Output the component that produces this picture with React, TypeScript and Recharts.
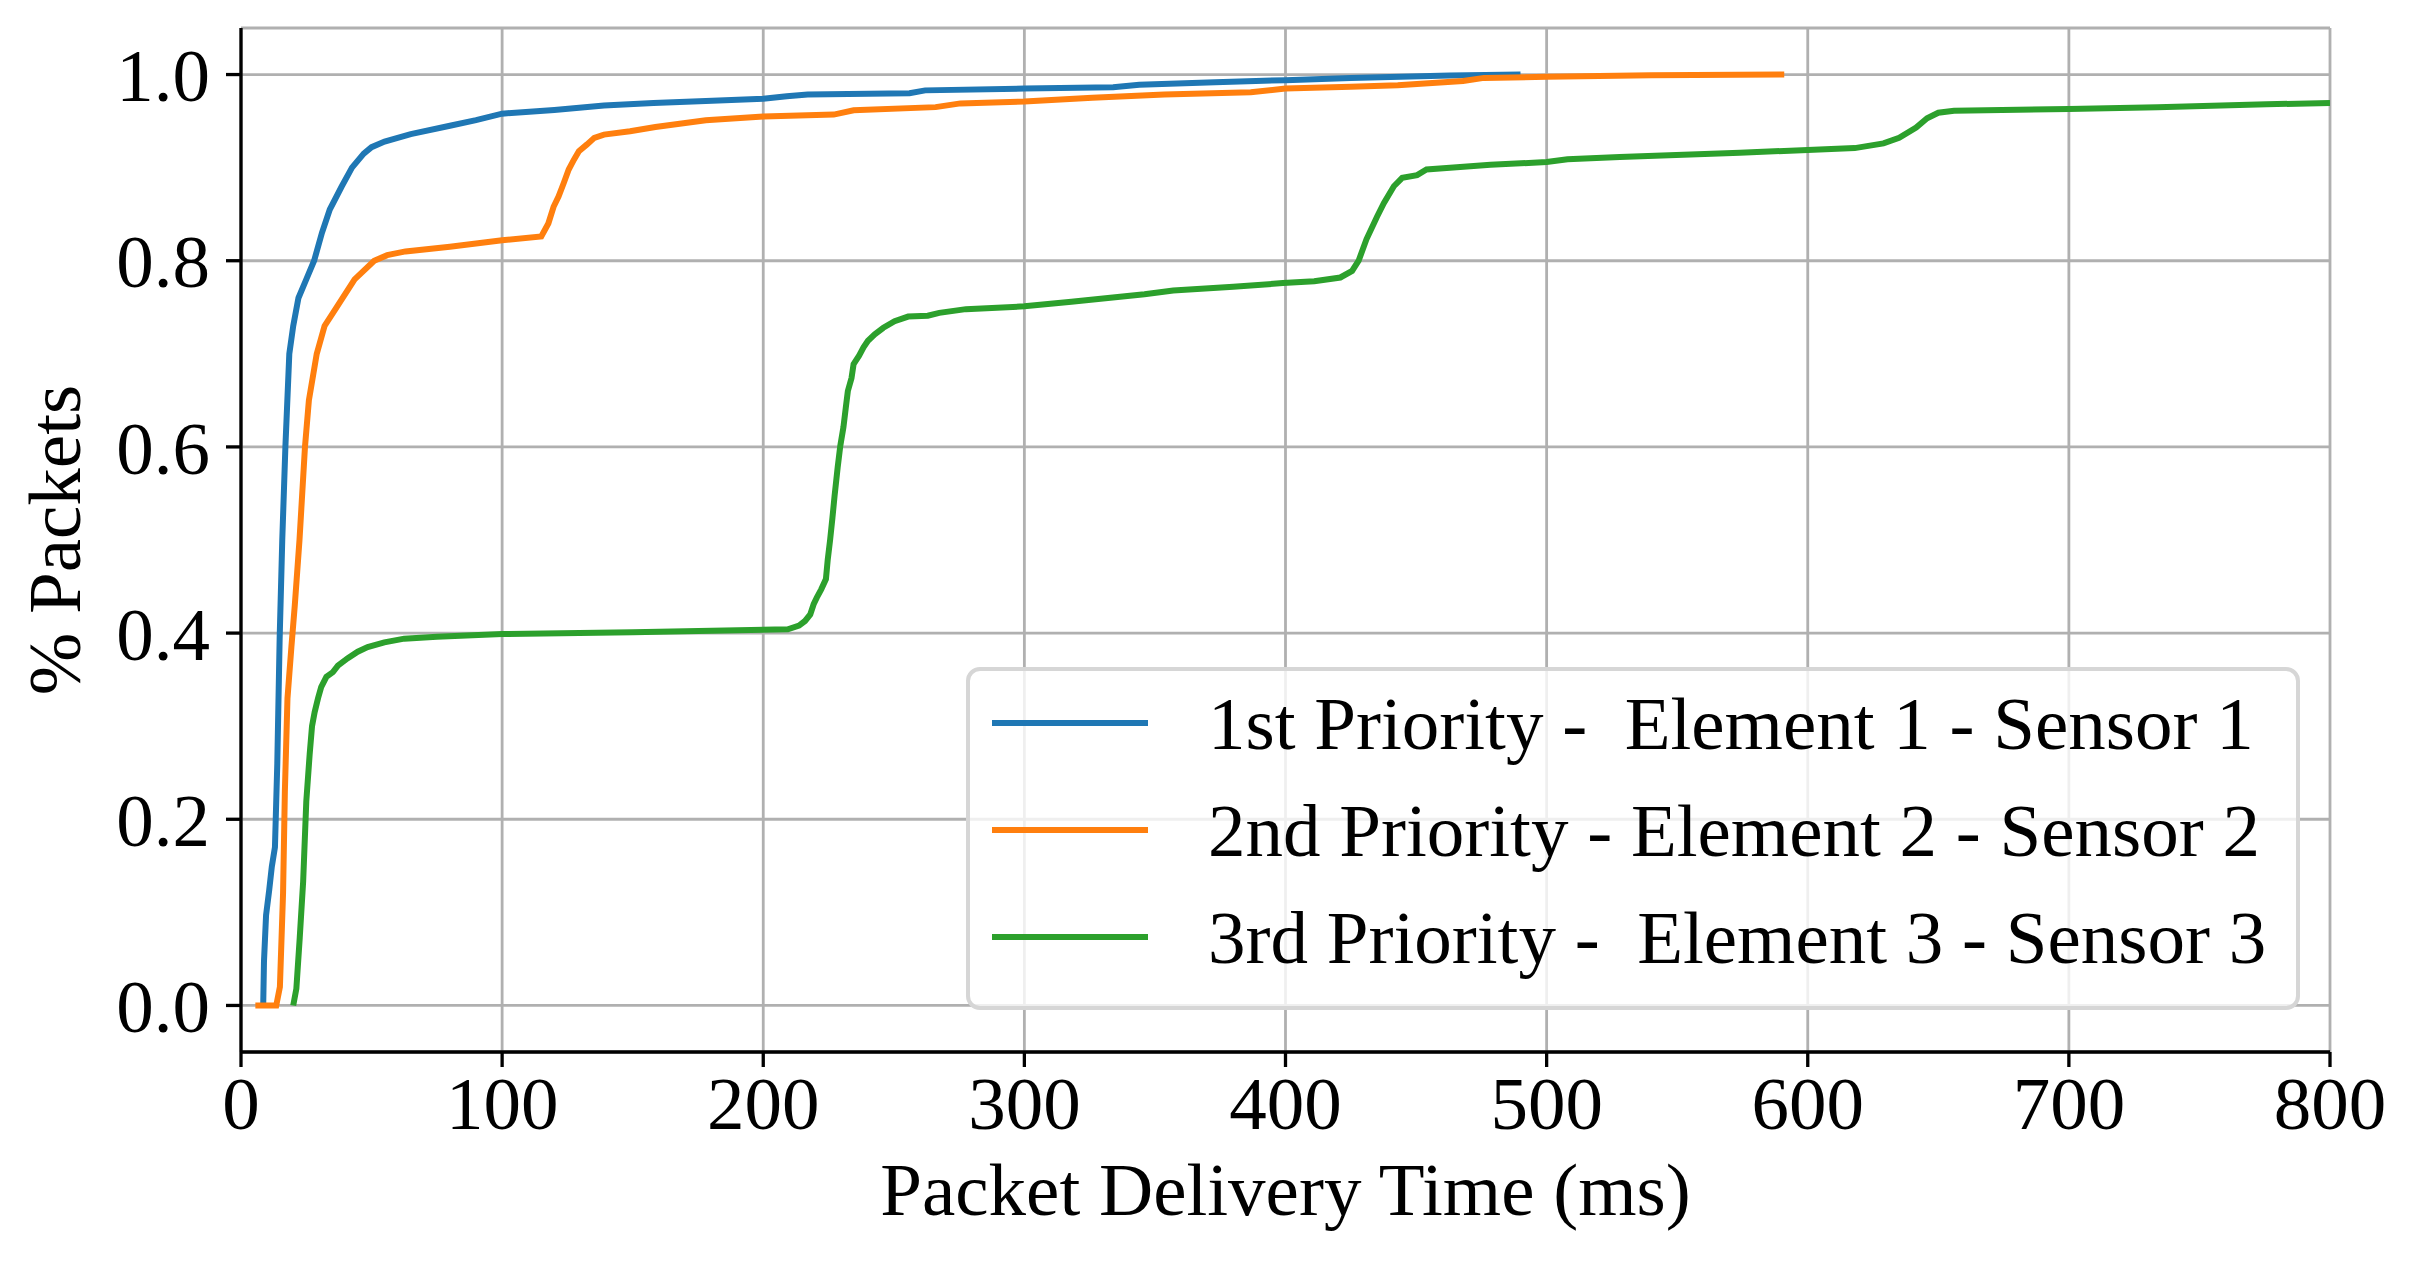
import React from 'react';
import { LineChart, Line, XAxis, YAxis, CartesianGrid } from 'recharts';

const FONT = "'Liberation Serif', 'Times New Roman', serif";

const seriesNames = [
  '1st Priority -  Element 1 - Sensor 1',
  '2nd Priority - Element 2 - Sensor 2',
  '3rd Priority -  Element 3 - Sensor 3',
];
const seriesColors = ['#1f77b4', '#ff7f0e', '#2ca02c'];

const xTicks = [0, 100, 200, 300, 400, 500, 600, 700, 800];
const yTicks = [0, 0.2, 0.4, 0.6, 0.8, 1.0];

// 1st priority (blue)
const p1Time = [
  8.5, 8.8, 9.6, 10.8, 11.8, 13, 13.9, 14.8, 15.8, 17, 18.5, 20, 22, 25, 28, 31, 34,
  38.6, 42.5, 47, 50, 55, 65, 80, 90, 100, 120, 139, 158, 178, 200, 209, 217, 256,
  262, 300, 334, 344, 373, 400, 425, 463, 490,
];
const p1Cdf = [
  0, 0.047, 0.097, 0.124, 0.149, 0.17, 0.26, 0.394, 0.5, 0.6, 0.7, 0.73, 0.76, 0.78,
  0.8, 0.83, 0.855, 0.88, 0.9, 0.915, 0.922, 0.928, 0.936, 0.945, 0.951, 0.958, 0.962,
  0.9667, 0.9695, 0.9717, 0.974, 0.9767, 0.9785, 0.98, 0.983, 0.985, 0.9864, 0.989,
  0.9918, 0.994, 0.9964, 0.999, 1.0,
];

// 2nd priority (orange)
const p2Time = [
  5.5, 13.5, 14.9, 16.1, 16.8, 17.8, 19.3, 20.6, 22.4, 24.5, 26, 29, 32, 36.6, 43.5, 51,
  56, 63, 80, 100, 115, 117.7, 119.7, 121.6, 123.6, 125.5, 127.5, 129.4, 132.4, 135.3,
  139, 149, 158.7, 178, 200, 227, 234.6, 266, 275.5, 300, 326, 353.6, 386.7, 400, 425,
  443, 468, 476, 500, 540, 591,
];
const p2Cdf = [
  0, 0, 0.02, 0.12, 0.23, 0.33, 0.385, 0.43, 0.5, 0.6, 0.65, 0.7, 0.73, 0.75, 0.78, 0.8,
  0.806, 0.81, 0.815, 0.822, 0.826, 0.84, 0.858, 0.869, 0.8835, 0.898, 0.9086, 0.9176,
  0.9247, 0.932, 0.9355, 0.939, 0.9437, 0.951, 0.955, 0.957, 0.9617, 0.965, 0.969, 0.971,
  0.975, 0.9785, 0.981, 0.985, 0.987, 0.9885, 0.993, 0.9964, 0.9975, 0.9993, 1.0,
];

// 3rd priority (green)
const p3Time = [
  20, 21.2, 22.5, 23.8, 25, 26.3, 27.2, 28.2, 29.5, 30.7, 32.7, 35.2, 37.1, 40.9, 44.7,
  48.5, 54.9, 62.5, 75, 100, 150, 209.4, 213.7, 216, 218, 219.3, 220.5, 222.2, 224,
  224.7, 225.6, 226.5, 227.3, 228.5, 229.5, 230.7, 231.6, 232.4, 233.8, 234.6, 236.7,
  238.4, 240.1, 242.7, 246, 250.3, 255.5, 263, 267.4, 277.6, 300, 318, 346, 357, 380,
  399, 411, 421, 425.5, 428, 431, 435, 437.7, 441.5, 444.7, 450.4, 454, 463, 478.5, 500,
  508, 528, 574, 600, 618, 629, 635, 641.5, 645.7, 650, 656, 700, 734, 775.7, 800,
];
const p3Cdf = [
  0, 0.018, 0.073, 0.133, 0.219, 0.27, 0.3, 0.315, 0.33, 0.342, 0.353, 0.358, 0.365,
  0.373, 0.38, 0.385, 0.39, 0.394, 0.396, 0.399, 0.401, 0.404, 0.408, 0.413, 0.42, 0.431,
  0.438, 0.447, 0.458, 0.479, 0.5, 0.524, 0.547, 0.578, 0.601, 0.621, 0.642, 0.66, 0.674,
  0.689, 0.698, 0.707, 0.714, 0.721, 0.728, 0.735, 0.74, 0.741, 0.744, 0.748, 0.751,
  0.756, 0.764, 0.768, 0.772, 0.776, 0.778, 0.782, 0.789, 0.8, 0.823, 0.847, 0.862, 0.88,
  0.889, 0.892, 0.898, 0.9, 0.903, 0.906, 0.909, 0.9115, 0.916, 0.919, 0.921, 0.926,
  0.932, 0.943, 0.953, 0.959, 0.961, 0.963, 0.965, 0.968, 0.9695,
];

const toPoints = (t: number[], c: number[]) => t.map((x, i) => ({ time: x, cdf: c[i] }));
const series = [toPoints(p1Time, p1Cdf), toPoints(p2Time, p2Cdf), toPoints(p3Time, p3Cdf)];

const tickStyle = { fontSize: 75, fontFamily: FONT, fill: '#000' };

const XLabel = (props: any) => {
  const vb = props.viewBox;
  return (
    <text x={vb.x + vb.width / 2} y={vb.y + 163} textAnchor="middle" fontSize={75} fontFamily={FONT} fill="#000">
      Packet Delivery Time (ms)
    </text>
  );
};

const YLabel = (props: any) => {
  const vb = props.viewBox;
  const x = vb.x + 80;
  const y = vb.y + vb.height / 2;
  return (
    <text x={x} y={y} transform={`rotate(-90, ${x}, ${y})`} textAnchor="middle" fontSize={75} fontFamily={FONT} fill="#000">
      % Packets
    </text>
  );
};

export default function App() {
  return (
    <div style={{ position: 'absolute', left: 0, top: 0, width: 2417, height: 1262, background: '#fff' }}>
      <LineChart width={2417} height={1262} margin={{ top: 28, right: 87, left: 0, bottom: 0 }}>
        <CartesianGrid stroke="#b0b0b0" strokeWidth={2.8} />
        <XAxis
          dataKey="time"
          type="number"
          domain={[0, 800]}
          ticks={xTicks}
          allowDataOverflow
          height={210}
          tick={tickStyle}
          tickSize={15}
          tickMargin={9}
          tickLine={{ stroke: '#000', strokeWidth: 3.3 }}
          axisLine={{ stroke: '#000', strokeWidth: 3.3 }}
          label={{ content: XLabel }}
        />
        <XAxis
          xAxisId="top"
          orientation="top"
          type="number"
          domain={[0, 800]}
          height={0}
          tick={false}
          tickLine={false}
          axisLine={{ stroke: '#000', strokeWidth: 3.3 }}
        />
        <YAxis
          type="number"
          domain={[-0.05, 1.05]}
          ticks={yTicks}
          allowDataOverflow
          width={241}
          tick={tickStyle}
          tickSize={15}
          tickMargin={16}
          tickFormatter={(v: number) => v.toFixed(1)}
          tickLine={{ stroke: '#000', strokeWidth: 3.3 }}
          axisLine={{ stroke: '#000', strokeWidth: 3.3 }}
          label={{ content: YLabel }}
        />
        <YAxis
          yAxisId="right"
          orientation="right"
          type="number"
          domain={[-0.05, 1.05]}
          width={0}
          tick={false}
          tickLine={false}
          axisLine={{ stroke: '#000', strokeWidth: 3.3 }}
        />
        {series.map((d, i) => (
          <Line
            key={seriesNames[i]}
            data={d}
            dataKey="cdf"
            name={seriesNames[i]}
            type="linear"
            stroke={seriesColors[i]}
            strokeWidth={6}
            dot={false}
            activeDot={false}
            isAnimationActive={false}
          />
        ))}
      </LineChart>
      <div
        style={{
          position: 'absolute',
          left: 966,
          top: 667,
          width: 1334,
          height: 343,
          boxSizing: 'border-box',
          border: '4px solid #d6d6d6',
          borderRadius: 14,
          background: 'rgba(255,255,255,0.8)',
        }}
      >
        {seriesNames.map((name, i) => (
          <div
            key={name}
            style={{
              position: 'absolute',
              left: 22,
              top: 52 + i * 107 - 53.5,
              height: 107,
              display: 'flex',
              alignItems: 'center',
            }}
          >
            <div style={{ width: 156, height: 6, background: seriesColors[i] }} />
            <span
              style={{
                marginLeft: 60,
                fontSize: 75,
                fontFamily: FONT,
                lineHeight: '107px',
                whiteSpace: 'pre',
                color: '#000',
              }}
            >
              {name}
            </span>
          </div>
        ))}
      </div>
    </div>
  );
}
